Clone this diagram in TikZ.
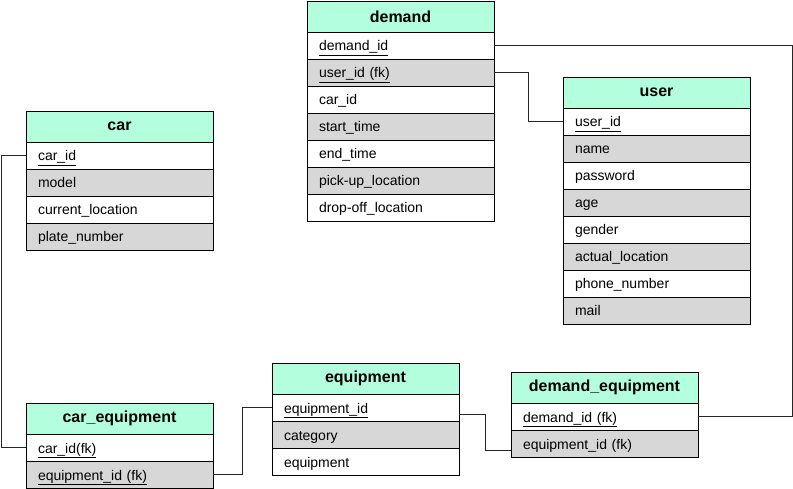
\documentclass[tikz,border=0pt]{standalone}
\usepackage{fontspec}
\setmainfont{Liberation Sans}
\usetikzlibrary{positioning}
\definecolor{headmint}{HTML}{B3FFDD}
\definecolor{rowgray}{HTML}{D7D7D7}
\tikzset{
  tabhead/.style={draw, fill=headmint, minimum width=187pt, minimum height=31pt, inner sep=0pt, outer sep=0pt, font=\fontsize{16}{18}\selectfont\bfseries, anchor=north west},
  tabrow/.style={draw, fill=white, minimum height=27pt, text width=163pt, text height=13pt, text depth=2pt, inner xsep=12pt, inner ysep=0pt, outer sep=0pt, align=left, font=\fontsize{14}{16}\selectfont},
  tabrowg/.style={tabrow, fill=rowgray},
  link/.style={draw=black!85, line width=1pt}
}
\begin{document}
\begin{tikzpicture}[x=1pt,y=-1pt]
\useasboundingbox (0,0) rectangle (793,489);
%% demand table
\node [tabhead] (demandHead) at (307,1) {demand};
\node [tabrow,below=0pt of demandHead] (demandId) {\underline{demand\_id}};
\node [tabrowg,below=0pt of demandId] (demandUser) {\underline{user\_id (fk)}};
\node [tabrow,below=0pt of demandUser] (demandCar) {car\_id};
\node [tabrowg,below=0pt of demandCar] (demandStart) {start\_time};
\node [tabrow,below=0pt of demandStart] (demandEnd) {end\_time};
\node [tabrowg,below=0pt of demandEnd] (demandPick) {pick-up\_location};
\node [tabrow,below=0pt of demandPick] (demandDrop) {drop-off\_location};
%% user table
\node [tabhead] (userHead) at (563,77) {user};
\node [tabrow,below=0pt of userHead] (userId) {\underline{user\_id}};
\node [tabrowg,below=0pt of userId] (userName) {name};
\node [tabrow,below=0pt of userName] (userPass) {password};
\node [tabrowg,below=0pt of userPass] (userAge) {age};
\node [tabrow,below=0pt of userAge] (userGender) {gender};
\node [tabrowg,below=0pt of userGender] (userLoc) {actual\_location};
\node [tabrow,below=0pt of userLoc] (userPhone) {phone\_number};
\node [tabrowg,below=0pt of userPhone] (userMail) {mail};
%% car table
\node [tabhead] (carHead) at (26,111) {car};
\node [tabrow,below=0pt of carHead] (carId) {\underline{car\_id}};
\node [tabrowg,below=0pt of carId] (carModel) {model};
\node [tabrow,below=0pt of carModel] (carLoc) {current\_location};
\node [tabrowg,below=0pt of carLoc] (carPlate) {plate\_number};
%% car_equipment table
\node [tabhead] (ceHead) at (26,403) {car\_equipment};
\node [tabrow,below=0pt of ceHead] (ceCar) {\underline{car\_id(fk)}};
\node [tabrowg,below=0pt of ceCar] (ceEquip) {\underline{equipment\_id (fk)}};
%% equipment table
\node [tabhead] (eqHead) at (272,363) {equipment};
\node [tabrow,below=0pt of eqHead] (eqId) {\underline{equipment\_id}};
\node [tabrowg,below=0pt of eqId] (eqCat) {category};
\node [tabrow,below=0pt of eqCat] (eqName) {equipment};
%% demand_equipment table
\node [tabhead] (deHead) at (511,372) {demand\_equipment};
\node [tabrow,below=0pt of deHead] (deDemand) {\underline{demand\_id (fk)}};
\node [tabrowg,below=0pt of deDemand] (deEquip) {equipment\_id (fk)};
%drawings of links
\draw[link] (demandId.east) -- ++(298,0) |- (deDemand.east);
\draw[link] (demandUser.east) -- ++(34,0) |- (userId.west);
\draw[link] (carId.west) -- ++(-25,0) |- (ceCar.west);
\draw[link] (ceEquip.east) -- ++(29,0) |- (eqId.west);
\draw[link] ([yshift=-6.5pt]eqId.east) -- ++(26,0) |- ([yshift=-6.5pt]deEquip.west);
\end{tikzpicture}
\end{document}
